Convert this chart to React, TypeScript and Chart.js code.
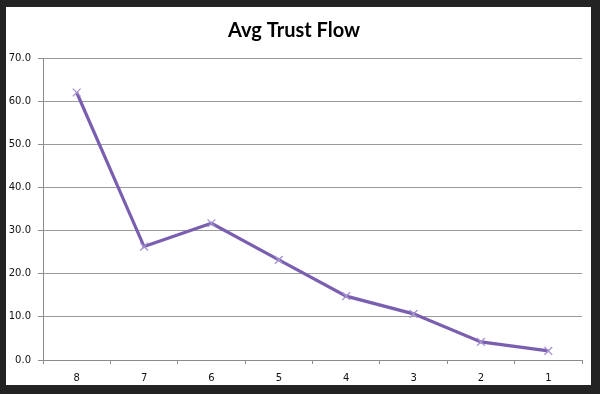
import React, { useEffect, useRef } from "react";
import { Chart, registerables } from "chart.js";

Chart.register(...registerables);

const categories = ["8", "7", "6", "5", "4", "3", "2", "1"];
const avgTrustFlow = [62.0, 26.3, 31.7, 23.2, 14.8, 10.7, 4.2, 2.1];
const chartTitle = "Avg Trust Flow";

export default function App() {
  const ref = useRef<HTMLCanvasElement | null>(null);

  useEffect(() => {
    if (!ref.current) return;
    const chart = new Chart(ref.current, {
      type: "line",
      data: {
        labels: categories,
        datasets: [
          {
            label: chartTitle,
            data: avgTrustFlow,
            borderColor: "#7a5fb0",
            backgroundColor: "#7a5fb0",
            borderWidth: 3.2,
            pointStyle: "crossRot",
            pointRadius: 5.5,
            pointBorderWidth: 1.3,
            pointBorderColor: "#a693d0",
            tension: 0,
          },
        ],
      },
      options: {
        animation: false,
        responsive: false,
        maintainAspectRatio: false,
        layout: { padding: { left: 0, right: 9, top: 0, bottom: 0 } },
        plugins: {
          legend: { display: false },
          tooltip: { enabled: false },
          title: {
            display: true,
            text: chartTitle,
            color: "#000",
            font: { family: "Lato", size: 20, weight: "bold" },
            padding: { top: 12, bottom: 15 },
          },
        },
        scales: {
          x: {
            type: "category",
            offset: true,
            border: { display: true, color: "#8c8c8c", width: 1 },
            grid: {
              offset: true,
              drawOnChartArea: false,
              drawTicks: true,
              tickLength: 4,
              color: "#8c8c8c",
            },
            ticks: {
              color: "#111",
              padding: 8,
              font: { family: "DejaVu Sans", size: 10 },
              maxRotation: 0,
            },
            afterFit: (s: any) => {
              s.height = 25;
            },
          },
          y: {
            min: 0,
            max: 70,
            border: { display: true, color: "#8c8c8c", width: 1 },
            grid: {
              color: "#9a9a9a",
              lineWidth: 1,
              drawTicks: true,
              tickLength: 5,
              tickColor: "#8c8c8c",
            },
            ticks: {
              stepSize: 10,
              color: "#111",
              padding: 7,
              font: { family: "DejaVu Sans", size: 10 },
              callback: (v: any) => Number(v).toFixed(1),
            },
            afterFit: (s: any) => {
              s.width = 37;
            },
          },
        },
      },
    });
    return () => chart.destroy();
  }, []);

  return (
    <div
      style={{
        position: "fixed",
        left: 0,
        top: 0,
        width: 600,
        height: 394,
        background: "#232323",
      }}
    >
      <div
        style={{
          position: "absolute",
          left: 6,
          top: 7,
          width: 585,
          height: 378,
          background: "#ffffff",
        }}
      >
        <canvas ref={ref} width={585} height={378} style={{ display: "block" }} />
      </div>
    </div>
  );
}
